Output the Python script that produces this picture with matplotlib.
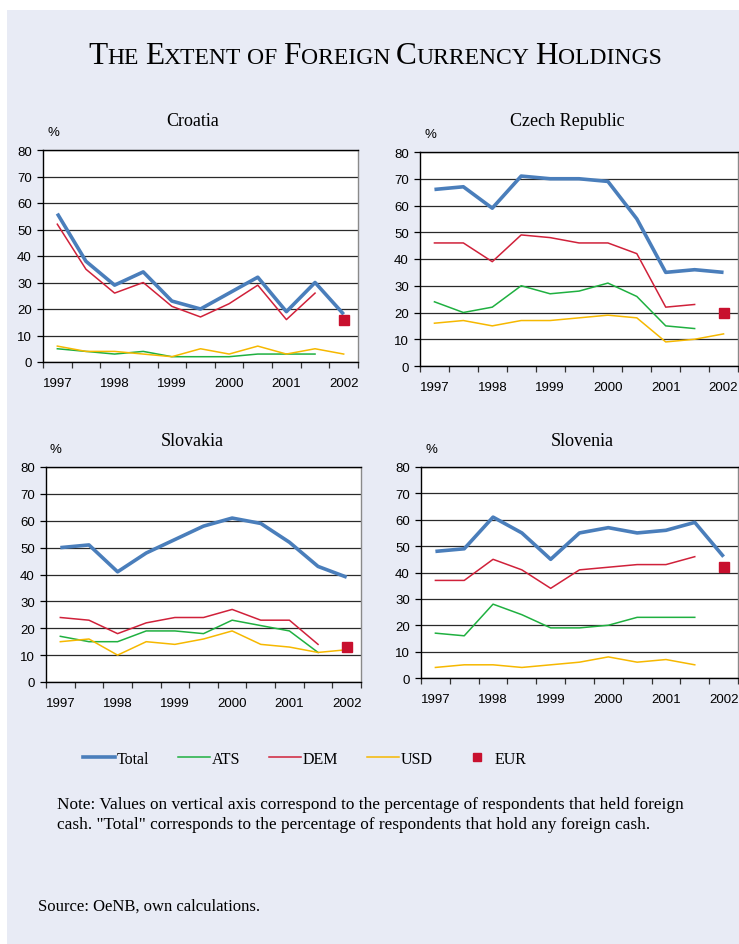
import numpy as np
import matplotlib
matplotlib.use("Agg")
import matplotlib.pyplot as plt
from matplotlib.patches import Rectangle
from matplotlib.lines import Line2D
from matplotlib.offsetbox import TextArea, HPacker, AnchoredOffsetbox

nan = np.nan

# 11 survey waves (half-yearly), labelled every second wave
years = ["1997", "1998", "1999", "2000", "2001", "2002"]
waves = np.arange(11)

croatia_total = [56, 38, 29, 34, 23, 20, 26, 32, 19, 30, 18]
croatia_ats = [5, 4, 3, 4, 2, 2, 2, 3, 3, 3, nan]
croatia_dem = [52, 35, 26, 30, 21, 17, 22, 29, 16, 26, nan]
croatia_usd = [6, 4, 4, 3, 2, 5, 3, 6, 3, 5, 3]
croatia_eur = [nan] * 10 + [16]

czech_total = [66, 67, 59, 71, 70, 70, 69, 55, 35, 36, 35]
czech_ats = [24, 20, 22, 30, 27, 28, 31, 26, 15, 14, nan]
czech_dem = [46, 46, 39, 49, 48, 46, 46, 42, 22, 23, nan]
czech_usd = [16, 17, 15, 17, 17, 18, 19, 18, 9, 10, 12]
czech_eur = [nan] * 10 + [20]

slovakia_total = [50, 51, 41, 48, 53, 58, 61, 59, 52, 43, 39]
slovakia_ats = [17, 15, 15, 19, 19, 18, 23, 21, 19, 11, nan]
slovakia_dem = [24, 23, 18, 22, 24, 24, 27, 23, 23, 14, nan]
slovakia_usd = [15, 16, 10, 15, 14, 16, 19, 14, 13, 11, 12]
slovakia_eur = [nan] * 10 + [13]

slovenia_total = [48, 49, 61, 55, 45, 55, 57, 55, 56, 59, 46]
slovenia_ats = [17, 16, 28, 24, 19, 19, 20, 23, 23, 23, nan]
slovenia_dem = [37, 37, 45, 41, 34, 41, 42, 43, 43, 46, nan]
slovenia_usd = [4, 5, 5, 4, 5, 6, 8, 6, 7, 5, nan]
slovenia_eur = [nan] * 10 + [42]

BLUE = "#4A7EBB"
GREEN = "#1FB040"
RED = "#D0213A"
YELLOW = "#F6B800"
EURRED = "#C8102E"
BG = "#E8EBF5"

W, H = 739, 945
fig = plt.figure(figsize=(W / 100, H / 100), dpi=100)
fig.patch.set_facecolor("white")
fig.patches.append(Rectangle((7 / W, 0), 1, 1 - 11 / H, transform=fig.transFigure,
                             facecolor=BG, edgecolor="none", zorder=-10))

SERIF = "Liberation Serif"
SANS = "Liberation Sans"
TICK_SIZE = 9.5


def px_axes(l, t, r, b):
    return fig.add_axes([l / W, 1 - b / H, (r - l) / W, (b - t) / H])


def panel(ax, name, total, ats, dem, usd, eur, title_xy):
    ax.set_facecolor("white")
    ax.plot(waves, ats, color=GREEN, lw=1.1, zorder=3)
    ax.plot(waves, dem, color=RED, lw=1.1, zorder=3)
    ax.plot(waves, usd, color=YELLOW, lw=1.1, zorder=3)
    ax.plot(waves, total, color=BLUE, lw=2.6, zorder=4, solid_capstyle="butt")
    ax.plot(waves, eur, ls="none", marker="s", ms=6.5, color=EURRED, zorder=5)
    ax.set_xlim(-0.5, 10.5)
    ax.set_ylim(0, 80)
    ax.set_yticks(range(0, 81, 10))
    ax.yaxis.grid(True, color="#2a2a2a", lw=0.9)
    ax.set_axisbelow(True)
    ax.set_xticks(np.arange(-0.5, 11, 1))
    ax.set_xticklabels([])
    ax.set_xticks(waves[::2], minor=True)
    ax.set_xticklabels(years, minor=True)
    ax.tick_params(axis="x", which="major", length=4, width=0.9, direction="out", color="#333333")
    ax.tick_params(axis="x", which="minor", length=0, pad=11)
    ax.tick_params(axis="y", length=4, width=0.9, direction="out", pad=4)
    for lab in ax.get_xticklabels(minor=True) + ax.get_yticklabels():
        lab.set_fontfamily(SANS)
        lab.set_fontsize(TICK_SIZE)
    for s in ["left", "bottom", "top"]:
        ax.spines[s].set_color("black")
        ax.spines[s].set_linewidth(1.0)
    ax.spines["right"].set_color("#8a8a8a")
    ax.spines["right"].set_linewidth(1.0)
    fig.text(title_xy[0] / W, 1 - title_xy[1] / H, name, family=SERIF, fontsize=13,
             ha="center", va="center")
    p = ax.get_position()
    fig.text(p.x0 + 4 / W, p.y1 + 18 / H, "%", family=SANS, fontsize=TICK_SIZE,
             ha="left", va="center")


ax1 = px_axes(43, 151, 358, 363)
panel(ax1, "Croatia", croatia_total, croatia_ats, croatia_dem, croatia_usd, croatia_eur, (193, 122))
ax2 = px_axes(420, 153, 738, 367)
panel(ax2, "Czech Republic", czech_total, czech_ats, czech_dem, czech_usd, czech_eur, (567, 122))
ax3 = px_axes(46, 468, 361, 683)
panel(ax3, "Slovakia", slovakia_total, slovakia_ats, slovakia_dem, slovakia_usd, slovakia_eur, (192, 442))
ax4 = px_axes(421, 468, 738, 679)
panel(ax4, "Slovenia", slovenia_total, slovenia_ats, slovenia_dem, slovenia_usd, slovenia_eur, (582, 442))

# small-caps title built from two font sizes
title = "The Extent of Foreign Currency Holdings"
words = title.split()
boxes = []
for i, word in enumerate(words):
    w = word.upper()
    if word[0].isupper():
        boxes.append(TextArea(w[0], textprops=dict(family=SERIF, fontsize=22.5)))
        if len(w) > 1:
            boxes.append(TextArea(w[1:], textprops=dict(family=SERIF, fontsize=17)))
    else:
        boxes.append(TextArea(w, textprops=dict(family=SERIF, fontsize=17)))
    if i < len(words) - 1:
        boxes.append(TextArea(" ", textprops=dict(family=SERIF, fontsize=17)))
pack = HPacker(children=boxes, align="baseline", pad=0, sep=0)
anch = AnchoredOffsetbox(loc="center", child=pack, frameon=False,
                         bbox_to_anchor=(375 / W, 1 - 56 / H), bbox_transform=fig.transFigure,
                         borderpad=0, pad=0)
fig.add_artist(anch)

handles = [
    Line2D([], [], color=BLUE, lw=2.6),
    Line2D([], [], color=GREEN, lw=1.1),
    Line2D([], [], color=RED, lw=1.1),
    Line2D([], [], color=YELLOW, lw=1.1),
    Line2D([], [], ls="none", marker="s", ms=6, color=EURRED),
]
fig.legend(handles, ["Total", "ATS", "DEM", "USD", "EUR"], loc="center",
           bbox_to_anchor=(305 / W, 1 - 760 / H), ncol=5, frameon=False,
           prop=dict(family=SERIF, size=11.5), handlelength=2.0, handletextpad=0.1,
           columnspacing=1.8)

fig.text(57 / W, 1 - 815 / H,
         "Note: Values on vertical axis correspond to the percentage of respondents that held foreign\n"
         "cash. \"Total\" corresponds to the percentage of respondents that hold any foreign cash.",
         family=SERIF, fontsize=12.4, ha="left", va="center", linespacing=1.4)
fig.text(38 / W, 1 - 907 / H, "Source: OeNB, own calculations.", family=SERIF, fontsize=12,
         ha="left", va="center")

fig.savefig("out.png", dpi=100)
